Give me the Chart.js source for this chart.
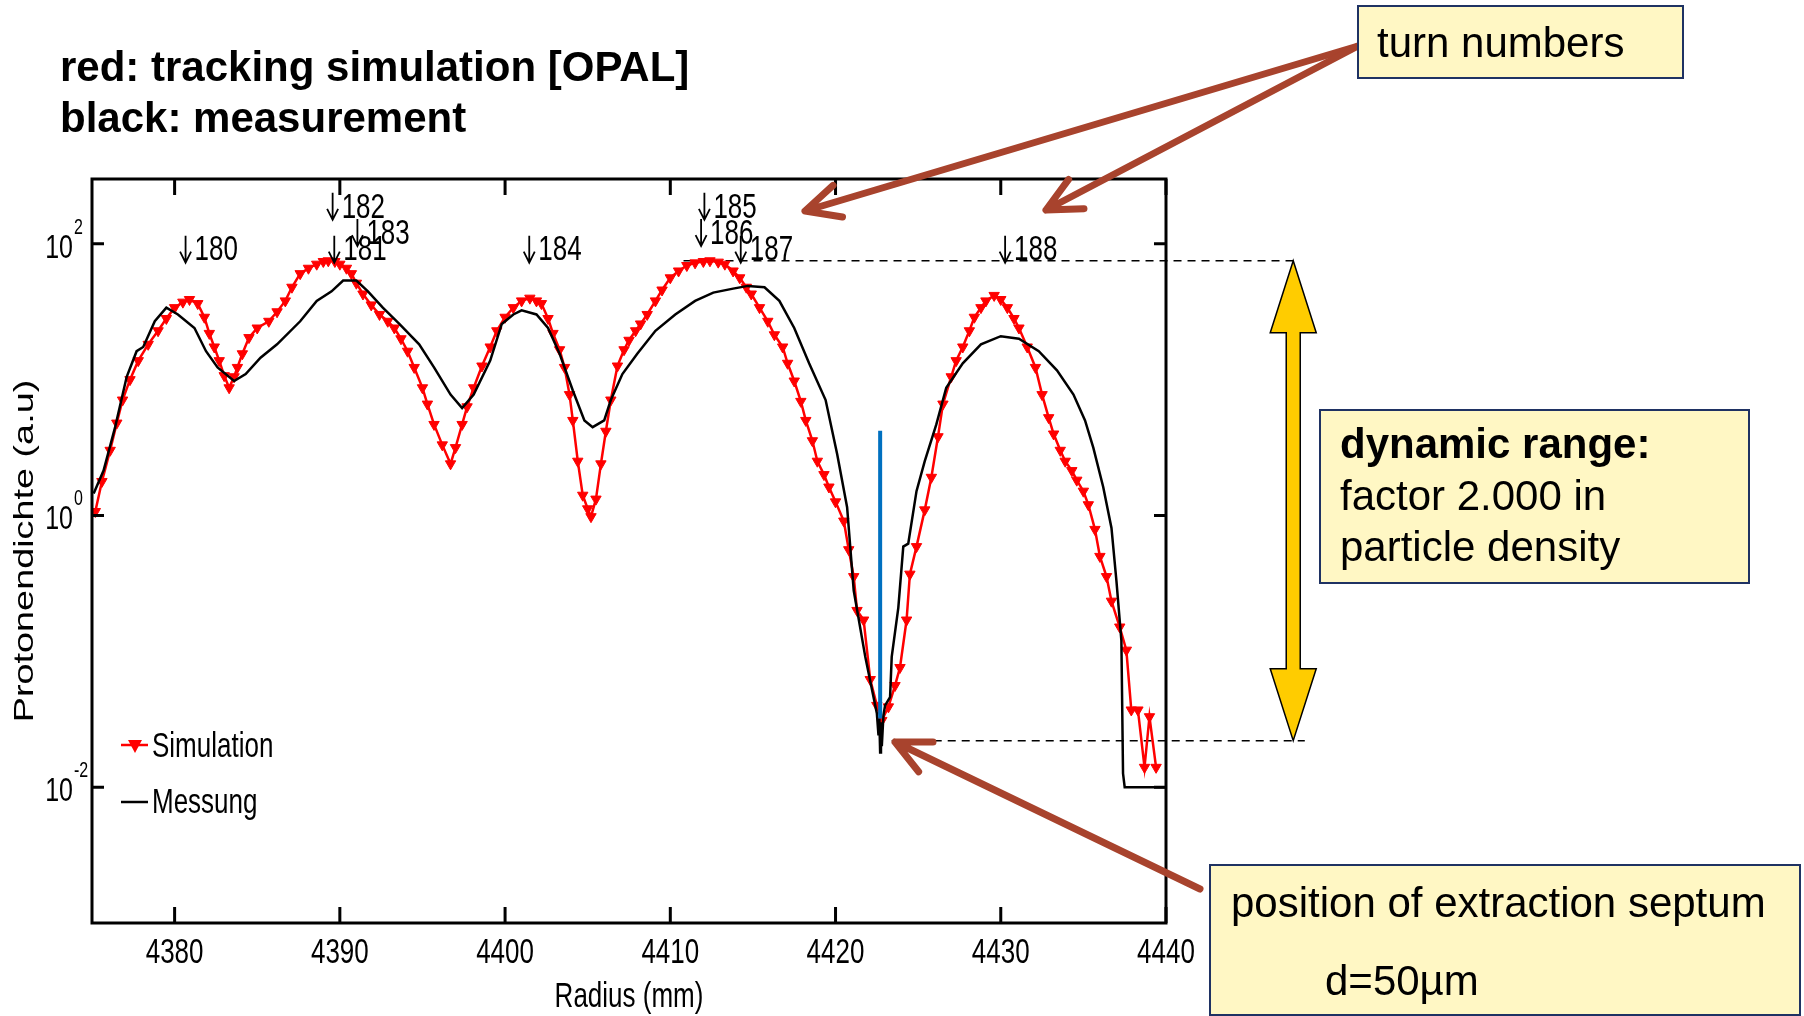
<!DOCTYPE html>
<html>
<head>
<meta charset="utf-8">
<script src="https://cdn.jsdelivr.net/npm/chart.js@4.4.1/dist/chart.umd.min.js"></script>
<style>
  html, body { margin: 0; padding: 0; background: #fff; }
  #wrap { width: 1804px; height: 1016px; }
</style>
</head>
<body>
<div id="wrap"><canvas id="chart" width="1804" height="1016"></canvas></div>
<script>
// OPAL tracking simulation: radius (mm) and proton density (a.u.)
const simRadius = [
  4375.2, 4375.6, 4376.1, 4376.5, 4376.85, 4377.3, 4377.8, 4378.4, 4379.0, 4379.5,
  4380.0, 4380.5, 4380.9, 4381.4, 4381.8, 4382.1, 4382.4, 4382.7, 4383.0, 4383.3,
  4383.6, 4383.8, 4384.1, 4384.5, 4385.0, 4385.7, 4386.2, 4386.7, 4387.1, 4387.6,
  4388.1, 4388.6, 4389.0, 4389.3, 4389.7, 4390.0, 4390.4, 4390.7, 4391.0, 4391.4,
  4391.9, 4392.4, 4392.9, 4393.3, 4393.7, 4394.1, 4394.5, 4395.0, 4395.3, 4395.7,
  4396.2, 4396.7, 4397.0, 4397.4, 4397.7, 4398.1, 4398.6, 4399.1, 4399.5, 4400.0,
  4400.5, 4401.0, 4401.5, 4401.9, 4402.2, 4402.6, 4402.9, 4403.3, 4403.6, 4403.9,
  4404.1, 4404.4, 4404.7, 4405.0, 4405.2, 4405.5, 4405.8, 4406.1, 4406.4, 4406.8,
  4407.2, 4407.5, 4407.9, 4408.2, 4408.6, 4409.1, 4409.5, 4410.0, 4410.5, 4411.0,
  4411.5, 4412.0, 4412.4, 4412.9, 4413.3, 4413.8, 4414.2, 4414.6, 4414.9, 4415.4,
  4415.9, 4416.3, 4416.8, 4417.1, 4417.5, 4417.9, 4418.2, 4418.6, 4418.9, 4419.3,
  4419.6, 4420.0, 4420.5, 4420.8, 4421.1, 4421.3, 4421.7, 4422.1, 4422.5, 4422.8,
  4423.2, 4423.6, 4423.9, 4424.3, 4424.5, 4424.9, 4425.4, 4425.8, 4426.2, 4426.5,
  4427.0, 4427.3, 4427.7, 4428.1, 4428.4, 4428.8, 4429.1, 4429.6, 4430.0, 4430.4,
  4430.8, 4431.1, 4431.6, 4432.1, 4432.5, 4432.9, 4433.2, 4433.6, 4433.9, 4434.3,
  4434.6, 4435.0, 4435.3, 4435.7, 4436.0, 4436.4, 4436.7, 4437.2, 4437.6, 4437.9,
  4438.3, 4438.7, 4439.0, 4439.4
];
const simDensity = [
  1.07, 1.78, 3.02, 4.79, 7.08, 10.0, 13.8, 18.2, 22.9, 28.2,
  33.9, 37.2, 38.9, 36.3, 28.8, 21.9, 17.4, 13.8, 10.7, 8.71,
  10.5, 12.3, 15.5, 20.4, 24.0, 26.9, 31.6, 38.0, 47.9, 60.3,
  66.1, 70.8, 74.1, 75.0, 74.1, 70.8, 66.1, 60.3, 51.3, 42.7,
  35.5, 30.2, 26.9, 24.0, 20.0, 16.2, 12.3, 8.71, 6.61, 4.68,
  3.31, 2.40, 3.16, 4.68, 6.31, 8.71, 12.6, 17.4, 22.9, 28.8,
  33.9, 38.0, 39.8, 38.0, 36.3, 28.2, 21.9, 16.6, 12.3, 7.76,
  5.01, 2.51, 1.41, 1.12, 0.98, 1.32, 2.40, 4.17, 7.08, 12.6,
  16.6, 19.5, 22.9, 25.7, 30.2, 38.0, 45.7, 56.2, 63.1, 69.2,
  72.4, 74.1, 75.0, 73.3, 70.8, 63.1, 56.2, 47.9, 42.7, 33.9,
  26.9, 21.4, 17.4, 13.2, 9.77, 6.92, 5.01, 3.55, 2.51, 2.00,
  1.62, 1.26, 0.91, 0.56, 0.355, 0.20, 0.17, 0.062, 0.040, 0.031,
  0.039, 0.056, 0.076, 0.17, 0.37, 0.59, 1.10, 1.91, 3.80, 6.61,
  10.5, 13.8, 17.4, 22.9, 28.8, 33.9, 38.0, 41.7, 38.9, 33.9,
  28.2, 24.0, 17.4, 12.3, 7.76, 5.25, 3.98, 3.02, 2.51, 2.14,
  1.82, 1.51, 1.20, 0.79, 0.50, 0.355, 0.234, 0.151, 0.102, 0.037,
  0.037, 0.014, 0.033, 0.014
];

// measured profile (Messung)
const measRadius = [
  4375.1, 4375.7, 4376.4, 4377.1, 4377.7, 4378.1, 4378.8, 4379.5, 4380.2, 4381.2,
  4381.9, 4382.6, 4383.6, 4384.3, 4385.2, 4386.2, 4387.6, 4388.6, 4389.5, 4390.2,
  4391.0, 4391.7, 4392.6, 4393.6, 4394.8, 4395.7, 4396.7, 4397.4, 4398.1, 4399.1,
  4399.8, 4400.5, 4401.0, 4401.9, 4402.6, 4403.3, 4404.1, 4404.8, 4405.3, 4406.0,
  4406.4, 4407.1, 4408.0, 4409.1, 4410.3, 4411.5, 4412.6, 4413.8, 4414.7, 4415.7,
  4416.6, 4417.5, 4418.4, 4419.4, 4420.1, 4420.7, 4421.1, 4421.8, 4422.3, 4422.5,
  4422.6, 4422.65, 4422.7, 4422.75, 4422.8, 4422.9, 4423.0, 4423.3, 4423.4, 4423.8,
  4424.1, 4424.4, 4424.9, 4425.4, 4426.1, 4426.7, 4427.7, 4428.8, 4430.0, 4431.1,
  4432.3, 4433.4, 4434.4, 4435.1, 4435.6, 4436.2, 4436.7, 4437.0, 4437.3, 4437.4,
  4437.5, 4440.0
];
const measDensity = [
  1.45, 2.14, 4.47, 10.5, 16.2, 17.4, 26.9, 33.9, 30.2, 24.0,
  16.2, 12.3, 9.77, 11.0, 14.5, 18.2, 26.9, 38.0, 44.7, 53.7,
  53.7, 44.7, 33.9, 25.7, 18.2, 12.3, 7.76, 6.17, 7.76, 13.8,
  25.7, 30.2, 32.4, 30.2, 24.0, 15.5, 8.32, 5.01, 4.47, 5.01,
  7.08, 11.0, 15.5, 22.9, 30.2, 38.0, 43.7, 46.8, 49.0, 47.9,
  38.0, 24.0, 13.2, 7.08, 2.82, 1.15, 0.28, 0.091, 0.046, 0.035,
  0.024, 0.032, 0.018, 0.030, 0.020, 0.034, 0.040, 0.046, 0.091, 0.21,
  0.59, 0.62, 1.51, 2.51, 4.68, 8.71, 13.2, 18.2, 20.9, 20.0,
  16.2, 11.7, 7.76, 5.01, 3.16, 1.62, 0.81, 0.33, 0.12, 0.0126,
  0.01, 0.01
];

// extraction septum position
const septumRadius = [4422.7, 4422.7];
const septumDensity = [0.032, 4.2];

// dynamic range levels and the extent of their dashed guide lines
const rangeLevels = [75, 0.022];
const rangeFrom = [4410.8, 4423.4];
const rangeTo = [4447.7, 4448.4];
const rangeArrowRadius = 4447.7;

// turn numbers: text anchor (left edge, vertical middle)
const turnLabels = ['180', '181', '182', '183', '184', '185', '186', '187', '188'];
const turnRadius = [4380.3, 4389.3, 4389.2, 4390.7, 4401.1, 4411.7, 4411.5, 4413.9, 4429.9];
const turnLevel = [89, 89, 184, 118, 89, 184, 118, 89, 89];

const xTicks = [4380, 4390, 4400, 4410, 4420, 4430, 4440];
const yTicks = [0.01, 1, 100];
const yTickExp = ['-2', '0', '2'];

const FONT = '"Liberation Sans", Arial, Helvetica, sans-serif';
const STRETCH = 1.35;   // plot lettering is tall and narrow
const BROWN = '#a8432d';

function txt(ctx, text, x, y, size, o) {
  o = o || {};
  ctx.save();
  ctx.translate(x, y);
  if (o.rotate) ctx.rotate(o.rotate);
  ctx.scale(o.sx || 1, o.sy || 1);
  ctx.font = (o.bold ? 'bold ' : '') + size + 'px ' + FONT;
  ctx.textAlign = o.align || 'left';
  ctx.textBaseline = o.baseline || 'alphabetic';
  ctx.fillStyle = o.color || '#000';
  ctx.fillText(text, 0, 0);
  ctx.restore();
}

// down arrow in front of a turn number, then the number itself
function turnText(ctx, label, x, y) {
  const cx = x + 6, top = y - 15, tip = y + 12;
  ctx.save();
  ctx.strokeStyle = '#000';
  ctx.lineWidth = 1.8;
  ctx.beginPath();
  ctx.moveTo(cx, top); ctx.lineTo(cx, tip);
  ctx.moveTo(cx - 5.5, tip - 11); ctx.lineTo(cx, tip); ctx.lineTo(cx + 5.5, tip - 11);
  ctx.stroke();
  ctx.restore();
  txt(ctx, label, x + 15, y, 26, { baseline: 'middle', sy: STRETCH });
}

function brownArrow(ctx, x1, y1, x2, y2) {
  const a = Math.atan2(y1 - y2, x1 - x2);
  const len = 38, spread = 0.45;
  ctx.save();
  ctx.strokeStyle = BROWN;
  ctx.lineWidth = 7;
  ctx.lineCap = 'round';
  ctx.lineJoin = 'round';
  ctx.beginPath();
  ctx.moveTo(x1, y1);
  ctx.lineTo(x2, y2);
  ctx.moveTo(x2 + len * Math.cos(a - spread), y2 + len * Math.sin(a - spread));
  ctx.lineTo(x2, y2);
  ctx.lineTo(x2 + len * Math.cos(a + spread), y2 + len * Math.sin(a + spread));
  ctx.stroke();
  ctx.restore();
}

function noteBox(ctx, x, y, w, h) {
  ctx.save();
  ctx.fillStyle = '#fff7c4';
  ctx.fillRect(x, y, w, h);
  ctx.strokeStyle = '#1f3263';
  ctx.lineWidth = 2;
  ctx.strokeRect(x, y, w, h);
  ctx.restore();
}

const decorations = {
  id: 'decorations',
  afterDatasetsDraw(chart) {
    const ctx = chart.ctx;
    const xs = chart.scales.x, ys = chart.scales.y;
    const a = chart.chartArea;

    // axes box and inward ticks
    ctx.save();
    ctx.strokeStyle = '#000';
    ctx.lineWidth = 3;
    ctx.strokeRect(a.left, a.top, a.right - a.left, a.bottom - a.top);
    ctx.beginPath();
    xTicks.forEach(v => {
      const px = xs.getPixelForValue(v);
      ctx.moveTo(px, a.bottom); ctx.lineTo(px, a.bottom - 16);
      ctx.moveTo(px, a.top); ctx.lineTo(px, a.top + 16);
    });
    yTicks.forEach(v => {
      const py = ys.getPixelForValue(v);
      ctx.moveTo(a.left, py); ctx.lineTo(a.left + 12, py);
      ctx.moveTo(a.right, py); ctx.lineTo(a.right - 12, py);
    });
    ctx.stroke();
    ctx.restore();

    // tick labels
    xTicks.forEach(v => {
      txt(ctx, String(v), xs.getPixelForValue(v), a.bottom + 40, 26, { align: 'center', sy: STRETCH });
    });
    yTicks.forEach((v, i) => {
      const py = ys.getPixelForValue(v);
      txt(ctx, '10', a.left - 19, py + 14, 25, { align: 'right', sy: STRETCH });
      txt(ctx, yTickExp[i], a.left - 18, py - 10, 16, { sy: STRETCH });
    });

    // axis titles
    txt(ctx, 'Radius (mm)', (a.left + a.right) / 2, 1007, 26, { align: 'center', sy: STRETCH });
    txt(ctx, 'Protonendichte (a.u)', 25, (a.top + a.bottom) / 2, 28,
      { align: 'center', baseline: 'middle', rotate: -Math.PI / 2, sx: STRETCH });

    // turn numbers
    turnLabels.forEach((t, i) => {
      turnText(ctx, t, xs.getPixelForValue(turnRadius[i]), ys.getPixelForValue(turnLevel[i]));
    });

    // legend
    ctx.save();
    ctx.lineWidth = 2.5;
    ctx.strokeStyle = '#ff0000';
    ctx.beginPath(); ctx.moveTo(121, 745); ctx.lineTo(148, 745); ctx.stroke();
    ctx.fillStyle = '#ff0000';
    ctx.beginPath(); ctx.moveTo(128, 740); ctx.lineTo(142, 740); ctx.lineTo(135, 753); ctx.closePath(); ctx.fill();
    ctx.strokeStyle = '#000';
    ctx.beginPath(); ctx.moveTo(121, 802); ctx.lineTo(148, 802); ctx.stroke();
    ctx.restore();
    txt(ctx, 'Simulation', 152, 747, 26, { baseline: 'middle', sy: STRETCH });
    txt(ctx, 'Messung', 152, 803, 26, { baseline: 'middle', sy: STRETCH });

    // double arrow spanning the dynamic range
    const ax = xs.getPixelForValue(rangeArrowRadius);
    const yt = ys.getPixelForValue(rangeLevels[0]);
    const yb = ys.getPixelForValue(rangeLevels[1]);
    const sw = 7, hw = 23, hl = 72;
    ctx.save();
    ctx.fillStyle = '#ffcc00';
    ctx.strokeStyle = '#000';
    ctx.lineWidth = 1.5;
    ctx.beginPath();
    ctx.moveTo(ax, yt);
    ctx.lineTo(ax + hw, yt + hl);
    ctx.lineTo(ax + sw, yt + hl);
    ctx.lineTo(ax + sw, yb - hl);
    ctx.lineTo(ax + hw, yb - hl);
    ctx.lineTo(ax, yb);
    ctx.lineTo(ax - hw, yb - hl);
    ctx.lineTo(ax - sw, yb - hl);
    ctx.lineTo(ax - sw, yt + hl);
    ctx.lineTo(ax - hw, yt + hl);
    ctx.closePath();
    ctx.fill();
    ctx.stroke();
    ctx.restore();

    // callout arrows
    brownArrow(ctx, 1358, 46, 805, 211);
    brownArrow(ctx, 1358, 46, 1046, 210);
    brownArrow(ctx, 1200, 889, 895, 742);

    // callout boxes
    noteBox(ctx, 1358, 6, 325, 72);
    txt(ctx, 'turn numbers', 1377, 57, 42);
    noteBox(ctx, 1320, 410, 429, 173);
    txt(ctx, 'dynamic range:', 1340, 458, 42, { bold: true });
    txt(ctx, 'factor 2.000 in', 1340, 510, 42);
    txt(ctx, 'particle density', 1340, 561, 42);
    noteBox(ctx, 1210, 865, 590, 150);
    txt(ctx, 'position of extraction septum', 1231, 917, 42);
    txt(ctx, 'd=50\u00b5m', 1325, 995, 42);

    // heading
    txt(ctx, 'red: tracking simulation [OPAL]', 60, 81, 42, { bold: true });
    txt(ctx, 'black: measurement', 60, 132, 42, { bold: true });
  }
};

const toPoints = (xs, ys) => xs.map((x, i) => ({ x: x, y: ys[i] }));

new Chart(document.getElementById('chart').getContext('2d'), {
  type: 'line',
  data: {
    datasets: [
      {
        label: 'Septum',
        data: toPoints(septumRadius, septumDensity),
        borderColor: '#0070c0',
        borderWidth: 4,
        pointRadius: 0,
        order: -1
      },
      {
        label: 'Messung',
        data: toPoints(measRadius, measDensity),
        borderColor: '#000',
        borderWidth: 2.5,
        pointRadius: 0,
        tension: 0,
        order: 0
      },
      {
        label: 'Simulation',
        data: toPoints(simRadius, simDensity),
        borderColor: '#ff0000',
        borderWidth: 2.5,
        pointStyle: 'triangle',
        rotation: 180,
        pointRadius: 6,
        pointBackgroundColor: '#ff0000',
        pointBorderColor: '#ff0000',
        pointBorderWidth: 1,
        tension: 0,
        order: 1
      },
      {
        label: 'upper level',
        data: [{ x: rangeFrom[0], y: rangeLevels[0] }, { x: rangeTo[0], y: rangeLevels[0] }],
        borderColor: '#000',
        borderWidth: 1.5,
        borderDash: [8, 6],
        pointRadius: 0,
        clip: false,
        order: 2
      },
      {
        label: 'lower level',
        data: [{ x: rangeFrom[1], y: rangeLevels[1] }, { x: rangeTo[1], y: rangeLevels[1] }],
        borderColor: '#000',
        borderWidth: 1.5,
        borderDash: [8, 6],
        pointRadius: 0,
        clip: false,
        order: 2
      }
    ]
  },
  options: {
    responsive: false,
    animation: false,
    layout: { padding: { left: 92, top: 179, right: 638, bottom: 93 } },
    plugins: { legend: { display: false }, tooltip: { enabled: false } },
    scales: {
      x: { type: 'linear', min: 4375, max: 4440, display: false },
      y: { type: 'logarithmic', min: 0.001, max: 300, display: false }
    }
  },
  plugins: [decorations]
});
</script>
</body>
</html>
